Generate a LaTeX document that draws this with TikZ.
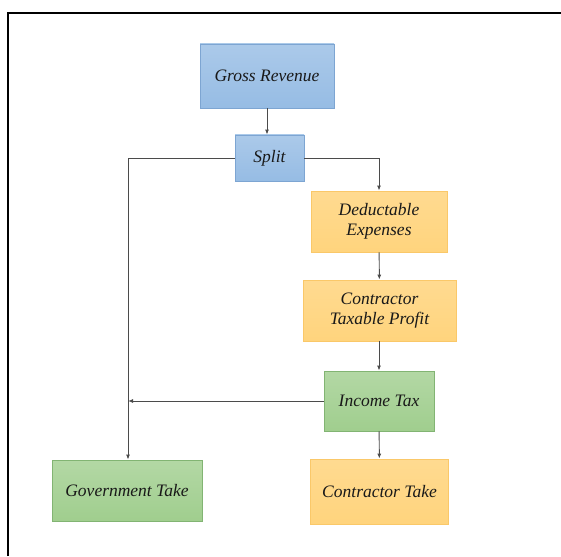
\documentclass[tikz,border=0pt]{standalone}
\usepackage{fontspec}
\setmainfont{Liberation Serif}
\usetikzlibrary{positioning,arrows.meta}
\definecolor{myblue}{RGB}{150,188,228}
\definecolor{myblueline}{RGB}{125,165,210}
\definecolor{myorange}{RGB}{255,212,125}
\definecolor{myorangeline}{RGB}{250,200,105}
\definecolor{mygreen}{RGB}{160,206,142}
\definecolor{mygreenline}{RGB}{130,180,115}
\definecolor{myline}{RGB}{75,75,75}

\begin{document}
\begin{tikzpicture}[x=1pt,y=-1pt,
  box/.style={draw,line width=0.8pt,align=center,inner sep=2pt,
    font=\itshape\fontsize{17.5}{20}\selectfont,text=black!90},
  bluebox/.style={box,draw=myblueline,top color=myblue!80,bottom color=myblue},
  orangebox/.style={box,draw=myorangeline,top color=myorange!85,bottom color=myorange},
  greenbox/.style={box,draw=mygreenline,top color=mygreen!80,bottom color=mygreen},
  flow/.style={draw=myline,line width=0.95pt,-{Latex[length=5pt,width=4pt]}}]

 \useasboundingbox (0,0) rectangle (561,556);

 % frame of the page
 \draw[line width=1.5pt] (8,556) -- (8,13) -- (561,13);

 \node[bluebox,minimum width=134pt,minimum height=64pt] (gross) at (267,76) {Gross Revenue};
 \node[bluebox,minimum width=69pt,minimum height=46pt] (split) at (269.5,158) {Split};

 \node[orangebox,minimum width=136pt,minimum height=61pt] (deduct) at (379,221.5) {Deductable\\Expenses};
 \node[orangebox,minimum width=153pt,minimum height=61pt] (profit) at (379.5,310.5) {Contractor\\Taxable Profit};
 \node[greenbox,minimum width=110pt,minimum height=60pt] (income) at (379,401) {Income Tax};

 \node[greenbox,minimum width=150pt,minimum height=61pt] (govt) at (127,490.5) {Government Take};
 \node[orangebox,minimum width=138pt,minimum height=65pt] (ctake) at (379.5,491.5) {Contractor Take};

 \coordinate (govtop) at (128,158);
 \coordinate (taxin) at (128,401);

 \draw[flow] (gross.south) -- (gross.south |- split.north);
 \draw[flow] (split.east) -| (deduct.north);
 \draw[flow] (deduct) -- (profit);
 \draw[flow] (profit.south -| income) -- (income.north);
 \draw[flow] (income) -- (ctake);

 % government share
 \draw[flow] (split.west) -- (govtop) -- (govtop |- govt.north);
 \draw[flow] (income.west) -- (taxin);

\end{tikzpicture}
\end{document}
